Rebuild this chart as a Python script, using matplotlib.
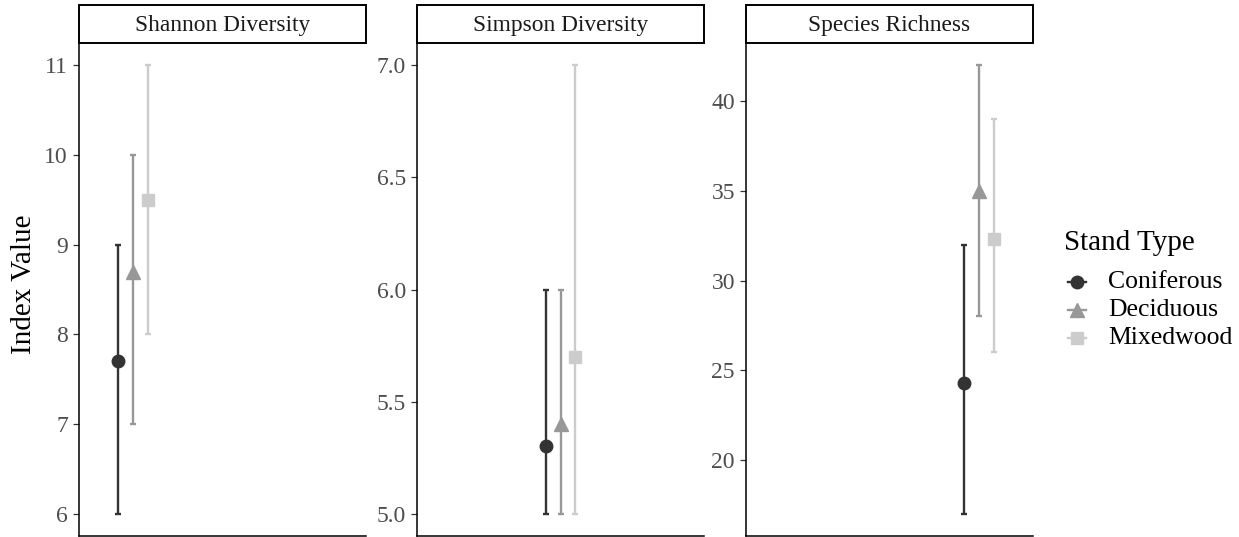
"""Diversity indices by stand type: mean with min/max range, one panel per index."""

import matplotlib
matplotlib.use("Agg")
import matplotlib.pyplot as plt
from matplotlib.lines import Line2D
from matplotlib.patches import Rectangle
from matplotlib.ticker import FormatStrFormatter, MultipleLocator

plt.rcParams["font.family"] = ["Liberation Serif", "DejaVu Serif"]

indices = ["Shannon Diversity", "Simpson Diversity", "Species Richness"]
stand_types = ["Coniferous", "Deciduous", "Mixedwood"]

shannon_mean = [7.7, 8.7, 9.5]
shannon_low = [6, 7, 8]
shannon_high = [9, 10, 11]

simpson_mean = [5.3, 5.4, 5.7]
simpson_low = [5, 5, 5]
simpson_high = [6, 6, 7]

richness_mean = [24.3, 35, 32.3]
richness_low = [17, 28, 26]
richness_high = [32, 42, 39]

panels = [
    (shannon_mean, shannon_low, shannon_high),
    (simpson_mean, simpson_low, simpson_high),
    (richness_mean, richness_low, richness_high),
]
tick_steps = [1, 0.5, 5]
tick_formats = ["%d", "%.1f", "%d"]

colors = ["#333333", "#989898", "#cccccc"]
markers = ["o", "^", "s"]
marker_sizes = [9, 10, 8.5]
dodge = 1 / 6

W, H = 1239, 537
fig = plt.figure(figsize=(W / 100, H / 100), dpi=100)

# panel extents in pixels (left, right); shared top/bottom
panel_px = [(79, 366), (417, 704), (746, 1033)]
top_px, bottom_px = 43, 536
strip_top_px = 5


def px(x, y):
    """Pixel position (from top-left) to figure fraction."""
    return x / W, (H - y) / H


for k, ((x0, x1), (mean, low, high)) in enumerate(zip(panel_px, panels)):
    ax = fig.add_axes([x0 / W, (H - bottom_px) / H, (x1 - x0) / W,
                       (bottom_px - top_px) / H])
    for j, st in enumerate(stand_types):
        x = k + 1 + (j - 1) * dodge
        ax.errorbar(x, mean[j],
                    yerr=[[mean[j] - low[j]], [high[j] - mean[j]]],
                    fmt="none", ecolor=colors[j], elinewidth=1.7,
                    capsize=2.3, capthick=1.7, zorder=2)
        ax.plot(x, mean[j], marker=markers[j], color=colors[j],
                markersize=marker_sizes[j], linestyle="none", zorder=3)

    lo, hi = min(low), max(high)
    pad = (hi - lo) * 0.05
    ax.set_ylim(lo - pad, hi + pad)
    ax.set_xlim(0.4, 3.6)
    ax.yaxis.set_major_locator(MultipleLocator(tick_steps[k]))
    ax.yaxis.set_major_formatter(FormatStrFormatter(tick_formats[k]))
    ax.set_xticks([])
    for side in ("top", "right"):
        ax.spines[side].set_visible(False)
    for side in ("left", "bottom"):
        ax.spines[side].set_linewidth(1.1)
        ax.spines[side].set_color("black")
    ax.tick_params(axis="y", length=4.5, width=0.9, color="#333333",
                   labelsize=17, labelcolor="#4d4d4d", pad=3.5)

    # facet strip
    strip = Rectangle(px(x0, top_px), (x1 - x0) / W,
                      (top_px - strip_top_px) / H, transform=fig.transFigure,
                      facecolor="white", edgecolor="black", linewidth=1.4)
    fig.patches.append(strip)
    fig.text(*px((x0 + x1) / 2, (top_px + strip_top_px) / 2 + 1),
             indices[k], ha="center", va="center", fontsize=16.8,
             color="#1a1a1a")

fig.text(*px(24, 284), "Index Value", rotation=90, ha="center", va="center",
         fontsize=21, color="black")

# legend, laid out by hand
fig.text(*px(1064, 243), "Stand Type", ha="left", va="center", fontsize=21)
entry_y = [282, 310, 338]
for c, m, ms, label, y in zip(colors, markers, marker_sizes, stand_types,
                              entry_y):
    fy = (H - y) / H
    fig.add_artist(Line2D([1068 / W, 1086 / W], [fy, fy], color=c,
                          linewidth=1.7, transform=fig.transFigure))
    fig.add_artist(Line2D([1077 / W], [fy], color=c, marker=m,
                          markersize=ms, linestyle="none",
                          transform=fig.transFigure))
    fig.text(*px(1108, y), label, ha="left", va="center", fontsize=18.5)

fig.savefig("out.png", dpi=100)
